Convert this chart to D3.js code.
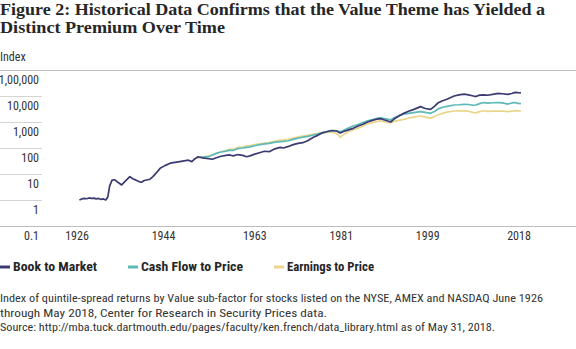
<!DOCTYPE html>
<html><head><meta charset="utf-8">
<script src="https://cdn.jsdelivr.net/npm/d3@7"></script>
<style>
html,body{margin:0;padding:0;background:#fff;}
svg{display:block;}
.cond{font-family:'Liberation Sans Narrow','Roboto Condensed','DejaVu Sans Condensed',sans-serif;}
</style></head>
<body>
<svg id="c" width="576" height="349"></svg>
<script>
const titleLines = ["Figure 2: Historical Data Confirms that the Value Theme has Yielded a", "Distinct Premium Over Time"];
const yTickValues = [0.1, 1, 10, 100, 1000, 10000, 100000];
const yTickLabels = ["0.1", "1", "10", "100", "1,000", "10,000", "1,00,000"];
const xTickValues = [1926, 1944, 1963, 1981, 1999, 2018];
const seriesNames = ["Book to Market", "Cash Flow to Price", "Earnings to Price"];
const seriesColors = ["#3b3a72", "#5cbab6", "#e9d68c"];

const bmYears = [1926.5,1927,1927.5,1928,1928.5,1929,1929.5,1930,1930.5,1931,1931.5,1932,1932.4,1932.8,1933.3,1933.9,1934.5,1935.3,1936,1937,1937.6,1938.3,1939,1939.5,1940,1940.5,1941.2,1941.8,1942.5,1943.3,1944.3,1945.4,1946.4,1947.4,1948.3,1949.2,1949.9,1950.5,1951.2,1952,1953,1954.2,1955,1956,1957,1957.8,1958.5,1959.5,1960.5,1961.3,1962,1963,1964,1965,1966,1967,1968.3,1969,1970,1971,1972,1973,1974,1975.2,1976,1977,1978,1979,1980,1980.8,1981.5,1982.5,1983.5,1984.5,1985.5,1986.5,1987.5,1988.5,1989.2,1990,1991.3,1992,1993,1994,1995,1996,1997.5,1998.5,1999.6,2000.5,2001.2,2002.1,2003,2004.5,2005.5,2006.6,2007.5,2008.5,2009,2009.8,2010.7,2011.5,2012.5,2013.7,2014.5,2015.7,2016.5,2017.2,2017.8,2018.4];
const bmValues = [1.0,1.1,1.15,1.12,1.2,1.15,1.18,1.1,1.15,1.05,1.1,1.0,1.3,3.5,5.8,6.0,4.8,3.8,5.2,7.9,6.6,5.8,5.0,4.9,5.6,5.9,6.3,7.9,11,16.5,21,26,28,30,32,34,30,38,46,42,40,37,42,48,52,54,50,56,52,46,50,58,66,75,72,90,106,100,115,135,150,160,190,260,300,380,420,470,450,380,430,500,570,700,820,1000,1150,1300,1350,1200,1000,1300,1700,2150,2600,3000,3900,3300,3050,4200,5500,6600,7500,10000,11000,11800,11000,10000,9500,10800,11000,10700,11500,12600,12200,11500,12500,13800,13500,13300];

const cfYears = [1951.5,1952.5,1953.5,1954.2,1955,1956,1957,1957.8,1958.5,1959.5,1960.5,1961.3,1962,1963,1964,1964.7,1966,1967,1968.3,1969,1970,1971,1971.8,1973,1974,1975.2,1976,1977,1978,1978.7,1979.5,1980.3,1980.8,1981.5,1982.5,1983.5,1984.5,1985.5,1986.5,1987.5,1988.5,1989.2,1990,1991.3,1992,1993,1994,1995,1996,1997.5,1998.5,1999.6,2000.5,2001.2,2002.1,2003,2004.5,2005.5,2006.6,2007.5,2008.5,2009,2009.8,2010.7,2011.5,2012.5,2013.7,2014.5,2015.7,2016.5,2017.2,2017.8,2018.4];
const cfValues = [44,46,48,54,62,70,76,83,80,95,100,106,110,122,135,142,150,165,175,180,190,215,235,260,280,315,340,380,430,460,470,450,420,480,580,700,800,950,1100,1250,1400,1450,1350,1200,1450,1750,2000,2150,2300,2500,2350,2150,2600,3200,3700,4000,4500,4600,4800,4700,4400,4500,5100,5600,5300,5500,5600,5400,4900,5400,5600,5200,5100];

const epYears = [1951,1952,1953,1954.2,1955,1956,1957,1957.8,1958.5,1959.5,1960.5,1961.3,1962,1963,1964,1964.7,1966,1967,1968.3,1969,1970,1971,1971.8,1973,1974,1975.2,1976,1977,1978,1978.7,1979.5,1980.3,1980.8,1981.5,1982.5,1983.5,1984.5,1985.5,1986.5,1987.5,1988.5,1989.2,1990,1991.3,1992,1993,1994,1995,1996,1997.5,1998.5,1999.6,2000.5,2001.2,2002.1,2003,2004.5,2005.5,2006.6,2007.5,2008.5,2009,2009.8,2010.7,2011.5,2012.5,2013.7,2014.5,2015.7,2016.5,2017.2,2017.8,2018.4];
const epValues = [40,44,47,54,63,72,80,89,90,105,112,120,125,135,145,150,160,180,200,205,215,240,260,285,310,345,360,380,400,420,400,330,260,330,420,490,580,700,840,950,1050,1100,1000,930,1050,1150,1260,1400,1550,1700,1550,1400,1650,1900,2150,2400,2650,2700,2700,2600,2300,2250,2500,2700,2550,2600,2650,2600,2500,2600,2750,2700,2650];

const footLines = [
 "Index of quintile-spread returns by Value sub-factor for stocks listed on the NYSE, AMEX and NASDAQ June 1926",
 "through May 2018, Center for Research in Security Prices data.",
 "Source: http://mba.tuck.dartmouth.edu/pages/faculty/ken.french/data_library.html as of May 31, 2018."
];

const svg = d3.select("#c");
const x = d3.scaleLinear().domain([1926, 2018]).range([77, 519]);
const y = d3.scaleLog().domain([0.1, 100000]).range([226, 70]);

// title
svg.append("text").attr("x", 0).attr("y", 15).attr("font-family", "'Liberation Serif','DejaVu Serif',serif")
  .attr("font-weight", "bold").attr("font-size", 17).attr("fill", "#262626")
  .attr("textLength", 545).attr("lengthAdjust", "spacingAndGlyphs").text(titleLines[0]);
svg.append("text").attr("x", 0).attr("y", 33).attr("font-family", "'Liberation Serif','DejaVu Serif',serif")
  .attr("font-weight", "bold").attr("font-size", 17).attr("fill", "#262626")
  .attr("textLength", 225).attr("lengthAdjust", "spacingAndGlyphs").text(titleLines[1]);

svg.append("text").attr("class", "cond").attr("x", 0).attr("y", 61).attr("font-size", 12).attr("fill", "#333").text("Index");

// y gridlines/ticks
const yAxis = svg.append("g");
yTickValues.forEach((v, i) => {
  const yy = Math.round(y(v)) + 0.5;
  const full = (i === 0 || i === yTickValues.length - 1);
  yAxis.append("line").attr("x1", 0).attr("x2", full ? 576 : 42).attr("y1", yy).attr("y2", yy)
    .attr("stroke", full ? "#bdbdbd" : "#d4d4d4").attr("stroke-width", 1);
  yAxis.append("text").attr("class", "cond").attr("x", 39).attr("y", y(v) + 14)
    .attr("text-anchor", "end").attr("font-size", 12).attr("fill", "#333").text(yTickLabels[i]);
});

// x labels
const xAxis = svg.append("g");
xTickValues.forEach(t => {
  xAxis.append("text").attr("class", "cond").attr("x", x(t)).attr("y", 240)
    .attr("text-anchor", "middle").attr("font-size", 12).attr("fill", "#333").text(t);
});

const line = d3.line().x(d => x(d[0])).y(d => y(d[1])).curve(d3.curveLinear);
const series = [
  {years: epYears, values: epValues, color: seriesColors[2]},
  {years: cfYears, values: cfValues, color: seriesColors[1]},
  {years: bmYears, values: bmValues, color: seriesColors[0]}
];
series.forEach(s => {
  const pts = s.years.map((yr, i) => [yr, s.values[i]]);
  svg.append("path").attr("d", line(pts)).attr("fill", "none").attr("stroke", s.color)
    .attr("stroke-width", 1.7).attr("stroke-linejoin", "round");
});

// legend
const legX = [0, 128, 274];
const legW = [84, 102, 87];
seriesNames.forEach((n, i) => {
  svg.append("line").attr("x1", legX[i]).attr("x2", legX[i] + 10).attr("y1", 267).attr("y2", 267)
    .attr("stroke", seriesColors[i]).attr("stroke-width", 3);
  svg.append("text").attr("class", "cond").attr("x", legX[i] + 13).attr("y", 271)
    .attr("font-size", 12.5).attr("font-weight", "bold").attr("fill", "#262626")
    .attr("textLength", legW[i]).attr("lengthAdjust", "spacingAndGlyphs").text(n);
});

const footW = [543, 327, 495];
footLines.forEach((t, i) => {
  svg.append("text").attr("class", "cond").attr("x", 0).attr("y", 302 + i * 14.5)
    .attr("font-size", 11.5).attr("fill", "#333")
    .attr("textLength", footW[i]).attr("lengthAdjust", "spacingAndGlyphs").text(t);
});
</script>
</body></html>
